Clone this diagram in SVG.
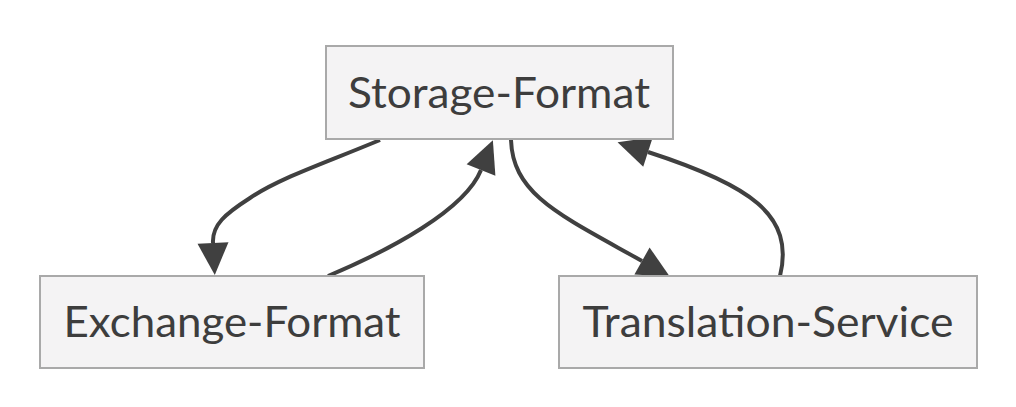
<svg xmlns="http://www.w3.org/2000/svg" width="1016" height="407" viewBox="0 0 1016 407">
<style>
.node rect{fill:#f4f3f4;stroke:#a9a9a9;stroke-width:2}
.node text{font-family:Lato,"Liberation Sans",Arial,sans-serif;font-size:42px;fill:#3d3d3d;text-anchor:middle}
.edge{fill:none;stroke:#404040;stroke-width:4;marker-end:url(#arrow)}
</style>
<defs>
<marker id="arrow" markerUnits="userSpaceOnUse" markerWidth="33" markerHeight="32" refX="0" refY="15.5" orient="auto" overflow="visible">
<path d="M0,0 L32,15.5 L0,31 z" fill="#404040"/>
</marker>
</defs>
<rect width="1016" height="407" fill="#ffffff"/>
<g id="connectors">
<path class="edge" d="M380,140 C320,165 280,178 250,198 C225,214 212,225 213,243"/>
<path class="edge" d="M328,276 C390,250 465,210 481,170"/>
<path class="edge" d="M511,140 C513,195 560,215 642,261"/>
<path class="edge" d="M780,276 C795,215 750,185 648,152"/>
</g>
<g id="storage-format" class="node">
<rect x="326" y="46" width="347" height="93"/>
<text x="499" y="108" textLength="302" lengthAdjust="spacingAndGlyphs">Storage-Format</text>
</g>
<g id="exchange-format" class="node">
<rect x="40" y="276" width="384" height="92"/>
<text x="232" y="337" textLength="337" lengthAdjust="spacingAndGlyphs">Exchange-Format</text>
</g>
<g id="translation-service" class="node">
<rect x="559" y="276" width="418" height="92"/>
<text x="768" y="337" textLength="371" lengthAdjust="spacingAndGlyphs">Translation-Service</text>
</g>
</svg>
